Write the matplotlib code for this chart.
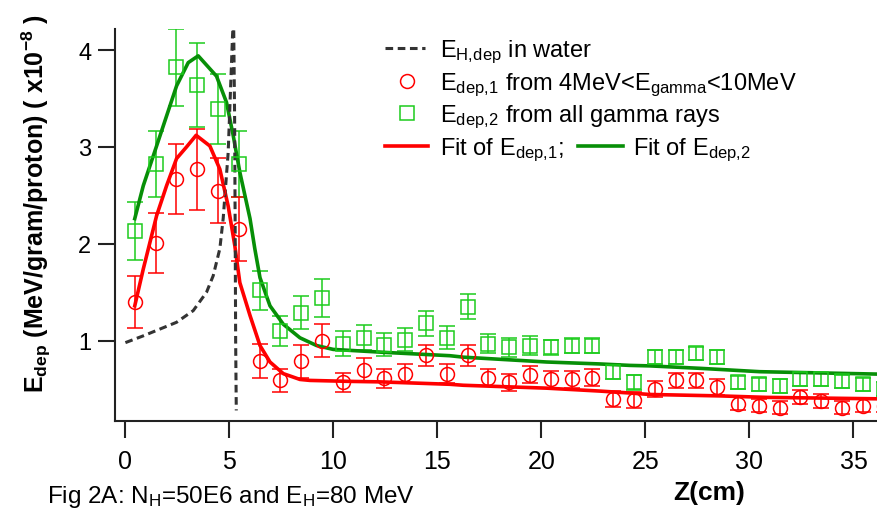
import matplotlib.pyplot as plt
from matplotlib.lines import Line2D

plt.rcParams['font.family'] = ['Liberation Sans', 'DejaVu Sans']
plt.rcParams['mathtext.fontset'] = 'custom'
plt.rcParams['mathtext.rm'] = 'Liberation Sans'
plt.rcParams['mathtext.bf'] = 'Liberation Sans:bold'
plt.rcParams['mathtext.it'] = 'Liberation Sans:italic'

# depth bins (cm)
z = [0.45, 1.45, 2.45, 3.45, 4.45, 5.45, 6.45, 7.45, 8.45, 9.45,
     10.45, 11.45, 12.45, 13.45, 14.45, 15.45, 16.45, 17.45, 18.45, 19.45,
     20.45, 21.45, 22.45, 23.45, 24.45, 25.45, 26.45, 27.45, 28.45, 29.45,
     30.45, 31.45, 32.45, 33.45, 34.45, 35.45, 36.45]

# E_dep,1 (4MeV<Egamma<10MeV)
edep1 = [1.40, 2.01, 2.67, 2.77, 2.55, 2.15, 0.79, 0.59, 0.79, 1.00,
         0.57, 0.70, 0.61, 0.66, 0.85, 0.66, 0.85, 0.62, 0.57, 0.65,
         0.60, 0.60, 0.62, 0.40, 0.39, 0.50, 0.59, 0.59, 0.52, 0.35,
         0.33, 0.31, 0.42, 0.38, 0.31, 0.33, 0.33]
err1 = [0.27, 0.31, 0.36, 0.42, 0.34, 0.33, 0.18, 0.12, 0.17, 0.17,
        0.10, 0.12, 0.10, 0.10, 0.11, 0.10, 0.11, 0.09, 0.09, 0.09,
        0.09, 0.09, 0.09, 0.08, 0.08, 0.08, 0.08, 0.08, 0.08, 0.07,
        0.07, 0.07, 0.07, 0.07, 0.07, 0.07, 0.07]

# E_dep,2 (all gamma rays)
edep2 = [2.13, 2.82, 3.82, 3.64, 3.39, 2.82, 1.52, 1.10, 1.29, 1.44,
         0.97, 1.03, 0.96, 1.01, 1.18, 1.03, 1.35, 0.97, 0.93, 0.95,
         0.93, 0.95, 0.95, 0.68, 0.57, 0.83, 0.83, 0.87, 0.83, 0.57,
         0.55, 0.53, 0.60, 0.60, 0.58, 0.55, 0.50]
err2 = [0.30, 0.34, 0.40, 0.43, 0.36, 0.34, 0.20, 0.15, 0.17, 0.20,
        0.13, 0.13, 0.12, 0.12, 0.13, 0.12, 0.13, 0.10, 0.10, 0.10,
        0.08, 0.08, 0.08, 0.08, 0.08, 0.07, 0.07, 0.07, 0.07, 0.07,
        0.07, 0.07, 0.07, 0.07, 0.07, 0.07, 0.07]

# fits
fit1_x = [0.45, 0.86, 1.5, 1.98, 2.46, 2.94, 3.4, 4.06, 4.54, 4.94, 5.26, 5.5,
          5.99, 6.47, 6.95, 7.59, 8.39, 8.87, 10.8, 12.24, 15.6, 16.24, 20.25,
          22.8, 24.25, 25.2, 28.6, 30.8, 36.2]
fit1_y = [1.36, 1.74, 2.29, 2.60, 2.88, 3.0, 3.12, 3.01, 2.77, 2.39, 1.98, 1.60,
          1.26, 0.95, 0.78, 0.66, 0.60, 0.59, 0.58, 0.575, 0.55, 0.54, 0.51,
          0.48, 0.46, 0.445, 0.43, 0.415, 0.40]
fit2_x = [0.45, 0.86, 1.5, 1.98, 2.46, 3.02, 3.5, 4.38, 4.86, 5.18, 5.5, 5.99,
          6.22, 6.47, 6.95, 7.59, 8.39, 9.19, 9.99, 12.4, 15.6, 16.24, 20.25,
          22.8, 24.25, 25.2, 27.6, 30.5, 36.2]
fit2_y = [2.26, 2.60, 3.01, 3.32, 3.63, 3.87, 3.94, 3.73, 3.46, 3.12, 2.74, 2.26,
          1.95, 1.65, 1.36, 1.17, 1.03, 0.95, 0.91, 0.88, 0.845, 0.83, 0.78,
          0.76, 0.745, 0.74, 0.715, 0.68, 0.655]

# E_H,dep in water
eh_x = [0.0, 0.86, 1.66, 2.46, 3.26, 3.9, 4.22, 4.54, 4.7, 4.94, 5.06, 5.15,
        5.2, 5.25, 5.28, 5.3, 5.33]
eh_y = [0.98, 1.05, 1.12, 1.19, 1.31, 1.50, 1.67, 1.95, 2.26, 2.94, 3.63, 4.15,
        4.35, 3.3, 2.0, 1.0, 0.28]

red = '#ff0000'
lgreen = '#1ccc1c'
dgreen = '#078f07'
dash = '#333333'
W, H = 877, 510

def fx(px):
    return px / W

def fy(py):
    return 1 - py / H

fig = plt.figure(figsize=(W / 100, H / 100), dpi=100)
ax = fig.add_axes([fx(115), fy(422.3), (W - 115) / W, (422.3 - 30) / H])

ax.errorbar(z, edep2, yerr=err2, fmt='s', mfc='none', mec=lgreen, ms=10.5,
            mew=1.1, ecolor=lgreen, elinewidth=1.1, capsize=5.5, capthick=1.3)
ax.errorbar(z, edep1, yerr=err1, fmt='o', mfc='none', mec=red, ms=10,
            mew=1.1, ecolor=red, elinewidth=1.1, capsize=5.5, capthick=1.3)
ax.plot(fit1_x, fit1_y, color=red, lw=2.6)
ax.plot(fit2_x, fit2_y, color=dgreen, lw=2.6)
ax.plot(eh_x, eh_y, color=dash, lw=2.2, linestyle=(0, (2.5, 1.5)))

ax.set_xlim(-0.5, 36.13)
ax.set_ylim(0.168, 4.217)
ax.set_xticks([0, 5, 10, 15, 20, 25, 30, 35])
ax.set_yticks([1, 2, 3, 4])
for s in ['top', 'right']:
    ax.spines[s].set_visible(False)
for s in ['left', 'bottom']:
    ax.spines[s].set_linewidth(1.5)
    ax.spines[s].set_color('#222222')
ax.tick_params(direction='out', length=12, width=1.5, color='#222222')
ax.tick_params(axis='x', labelsize=18, pad=8)
ax.tick_params(axis='y', labelsize=17, pad=5)

# axis labels
fig.text(fx(36), fy(393), r'E$_{\mathbf{dep}}$ (MeV/gram/proton) ( x10$^{\mathbf{-8}}$ )',
         rotation=90, ha='center', va='bottom', fontsize=18, fontweight='bold')
fig.text(fx(709), fy(500), 'Z(cm)', ha='center', va='baseline',
         fontsize=19, fontweight='bold')
fig.text(fx(47), fy(503), r'Fig 2A: N$_{\rm H}$=50E6 and E$_{\rm H}$=80 MeV',
         ha='left', va='baseline', fontsize=17.5)

# legend
fs = 17
fig.add_artist(Line2D([fx(385), fx(425)], [fy(48.5)] * 2, color=dash, lw=2.2,
                      linestyle=(0, (2.5, 1.5))))
fig.text(fx(440), fy(56.7), r'E$_{\rm H,\!dep}$ in water', fontsize=fs, va='baseline')
fig.add_artist(Line2D([fx(406.7)], [fy(82)], marker='o', mfc='none', mec=red,
                      ms=10, mew=1.1, linestyle='none'))
fig.text(fx(440), fy(90), r'E$_{\rm dep,\!1}$ from 4MeV<E$_{\rm gamma}$<10MeV',
         fontsize=fs, va='baseline')
fig.add_artist(Line2D([fx(406.7)], [fy(113.5)], marker='s', mfc='none', mec=lgreen,
                      ms=10.5, mew=1.1, linestyle='none'))
fig.text(fx(440), fy(121.7), r'E$_{\rm dep,\!2}$ from all gamma rays',
         fontsize=fs, va='baseline')
fig.add_artist(Line2D([fx(385), fx(428)], [fy(147)] * 2, color=red, lw=2.6))
fig.text(fx(440), fy(155), r'Fit of E$_{\rm dep,\!1}$;', fontsize=fs, va='baseline')
fig.add_artist(Line2D([fx(578), fx(623)], [fy(147)] * 2, color=dgreen, lw=2.6))
fig.text(fx(633), fy(155), r'Fit of E$_{\rm dep,\!2}$', fontsize=fs, va='baseline')

fig.savefig('out.png', dpi=100)
